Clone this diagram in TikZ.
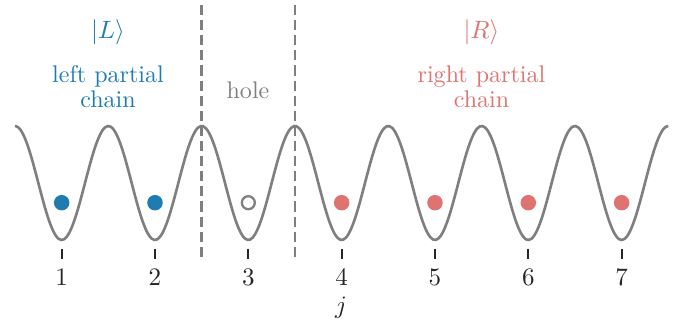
\documentclass[tikz,border=0pt]{standalone}
\usepackage{amsmath}
\definecolor{cblue}{HTML}{1F7BB0}
\definecolor{cred}{HTML}{DE7371}
\definecolor{cgray}{HTML}{7F7F7F}
\definecolor{ctext}{HTML}{262626}
\begin{document}
\begin{tikzpicture}[x=0.43668pt, y=-0.43668pt,
  pot/.style={cgray, line width=1.15pt},
  divider/.style={cgray, line width=1.25pt, dash pattern=on 4.4pt off 2.2pt},
  fulldot/.style={circle, inner sep=0pt, minimum size=15.5*0.43668pt},
  holedot/.style={circle, draw=cgray, line width=1pt, inner sep=0pt, minimum size=13*0.43668pt},
  tickmark/.style={ctext, line width=0.85pt},
  numlab/.style={ctext, font=\fontsize{10.5}{12}\selectfont},
  lab/.style={align=center, font=\fontsize{10.5}{10.8}\selectfont}]
\useasboundingbox (0,0) rectangle (687,327);
% dividers
\coordinate (d1t) at (201.7,5);
\coordinate (d1b) at (201.7,259);
\coordinate (d2t) at (295,5);
\coordinate (d2b) at (295,259);
\draw[divider] (d1t) -- (d1b);
\draw[divider] (d2t) -- (d2b);
% potential
\draw[pot] plot[domain=15:668.3, samples=240, smooth] (\x, {183+57*cos(3.85728*(\x-61.67))});
% sites
\foreach \i in {1,...,7}{
  \coordinate (s\i) at ({61.67+93.33*(\i-1)},202.7);
  \coordinate (ta\i) at ({61.67+93.33*(\i-1)},249);
  \coordinate (tb\i) at ({61.67+93.33*(\i-1)},259.5);
  \draw[tickmark] (ta\i) -- (tb\i);
  \node[numlab] (n\i) at ({61.67+93.33*(\i-1)},277) {$\i$};
}
\node[fulldot, fill=cblue] (p1) at (s1) {};
\node[fulldot, fill=cblue] (p2) at (s2) {};
\node[holedot] (p3) at (s3) {};
\foreach \i in {4,...,7}{\node[fulldot, fill=cred] (p\i) at (s\i) {};}
\node[numlab] (jlab) at (341,308) {$j$};
% labels
\node[lab, text=cblue] (Lket) at (108,32) {$|L\rangle$};
\node[lab, text=cblue] (Ltxt) at (108,87) {left partial\\chain};
\node[lab, text=cgray] (hole) at (248,90) {hole};
\node[lab, text=cred] (Rket) at (481.5,32) {$|R\rangle$};
\node[lab, text=cred] (Rtxt) at (481.5,87) {right partial\\chain};
\end{tikzpicture}
\end{document}
